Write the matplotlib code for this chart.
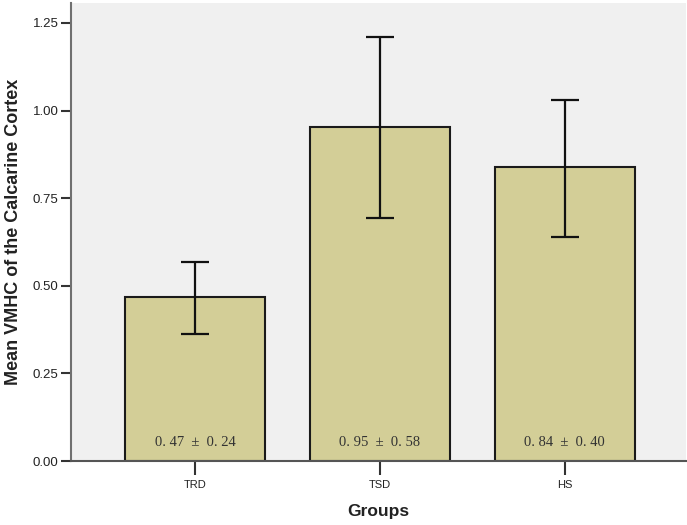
import matplotlib
matplotlib.use("Agg")
import matplotlib.pyplot as plt

# Data.
groups = ["TRD", "TSD", "HS"]
means = [0.468, 0.953, 0.839]
err_low = [0.362, 0.693, 0.640]
err_high = [0.569, 1.210, 1.030]
labels = ["0.47 ± 0.24", "0.95 ± 0.58", "0.84 ± 0.40"]
yticks = [0.00, 0.25, 0.50, 0.75, 1.00, 1.25]

plt.rcParams["font.family"] = ["Liberation Sans", "DejaVu Sans"]

fig = plt.figure(figsize=(6.87, 5.25), dpi=100)
ax = fig.add_axes([71 / 687, 64 / 525, 615 / 687, 458 / 525])
ax.set_facecolor("#f0f0f0")

x = list(range(len(groups)))
yerr = [[m - lo for m, lo in zip(means, err_low)],
        [hi - m for m, hi in zip(means, err_high)]]
ax.bar(x, means, width=0.757, color="#d3ce97", edgecolor="#1a1a1a",
       linewidth=1.5, zorder=2)
ax.errorbar(x, means, yerr=yerr, fmt="none", ecolor="#111111",
            elinewidth=1.6, capsize=10, capthick=1.6, zorder=3)

# Mean +- SD labels inside the bars.
for xi, lab in zip(x, labels):
    ax.text(xi, 0.052, lab.replace(".", ". ").replace(" ± ", "  ±  "),
            ha="center", va="center", fontsize=10.5, color="#333333",
            family=["Liberation Serif", "DejaVu Serif"])

ax.set_xlim(-0.67, 2.655)
ax.set_ylim(0, 1.307)
ax.set_xticks(x, groups, fontsize=8)
ax.set_yticks(yticks, [f"{v:.2f}" for v in yticks], fontsize=9.5)
ax.tick_params(axis="x", length=10, width=1.5, color="#333333", pad=4,
               labelcolor="#222222")
ax.tick_params(axis="y", length=7, width=1.5, color="#333333", pad=2,
               labelcolor="#222222")

for side in ["top", "right"]:
    ax.spines[side].set_visible(False)
ax.spines["left"].set_color("#707070")
ax.spines["left"].set_linewidth(1.5)
ax.spines["bottom"].set_color("#555555")
ax.spines["bottom"].set_linewidth(1.5)

ax.set_xlabel("Groups", fontsize=12.5, fontweight="bold", color="#222222",
              labelpad=10)
ax.set_ylabel("Mean VMHC of the Calcarine Cortex", fontsize=13,
              fontweight="bold", color="#222222", labelpad=8)

fig.savefig("out.png", dpi=100, facecolor="white")
